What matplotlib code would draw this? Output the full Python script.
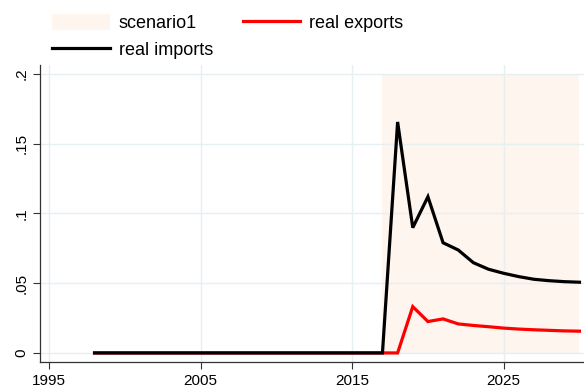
import matplotlib
matplotlib.use("Agg")
import matplotlib.pyplot as plt
import matplotlib.patches as patches
from matplotlib.lines import Line2D

plt.rcParams["font.family"] = ["Liberation Sans", "DejaVu Sans"]

years = list(range(1998, 2031))
real_exports = [0.0] * 21 + [0.0332, 0.0225, 0.0244, 0.0208, 0.0197, 0.0188,
                             0.0178, 0.0171, 0.0166, 0.0162, 0.0158, 0.0156]
real_imports = [0.0] * 20 + [0.1656, 0.0898, 0.112, 0.079, 0.0738, 0.0647, 0.060,
                             0.0571, 0.0547, 0.0528, 0.0518, 0.0511, 0.0507]
scenario_start, scenario_end = 2017, 2030
scenario_low, scenario_high = 0.0, 0.2
xticks = [1995, 2005, 2015, 2025]
yticks = [0, 0.05, 0.1, 0.15, 0.2]
yticklabels = ["0", ".05", ".1", ".15", ".2"]

fig = plt.figure(figsize=(5.84, 3.89), dpi=100)
ax = fig.add_axes([40 / 584, 27 / 389, 544 / 584, 297.5 / 389])
ax.set_axisbelow(True)

ax.add_patch(patches.Rectangle((scenario_start, scenario_low), scenario_end - scenario_start,
                               scenario_high - scenario_low, facecolor="#fdf5ee",
                               edgecolor="none", zorder=0.2))
ax.grid(True, color="#e6eff2", linewidth=1.0)

ax.plot(years, real_exports, color="#ff0000", linewidth=2.3, zorder=2,
        solid_joinstyle="miter")
ax.plot(years, real_imports, color="black", linewidth=2.3, zorder=3,
        solid_joinstyle="miter")

ax.set_xlim(1994.4, 2030.3)
ax.set_ylim(-0.0065, 0.2068)
ax.set_xticks(xticks)
ax.set_yticks(yticks)
ax.set_yticklabels(yticklabels, rotation=90, va="center")
ax.tick_params(labelsize=11, length=5, color="#333333", width=0.8)
for s in ["top", "right"]:
    ax.spines[s].set_visible(False)
for s in ["left", "bottom"]:
    ax.spines[s].set_color("#333333")
    ax.spines[s].set_linewidth(0.9)

# column-major fill: scenario1 / real imports in col 1, real exports in col 2
handles = [patches.Patch(facecolor="#fdf5ee", edgecolor="none"),
           Line2D([], [], color="black", linewidth=2.3),
           Line2D([], [], color="#ff0000", linewidth=2.3)]
labels = ["scenario1", "real imports", "real exports"]
fig.legend(handles, labels, loc="upper left", bbox_to_anchor=(41 / 584, 1 - 3 / 389), ncol=2,
           frameon=False, fontsize=13, handlelength=3.2, handleheight=1.0,
           handletextpad=0.5, columnspacing=1.65, labelspacing=0.5, borderaxespad=0.2)

fig.savefig("out.png", dpi=100, facecolor="white")
